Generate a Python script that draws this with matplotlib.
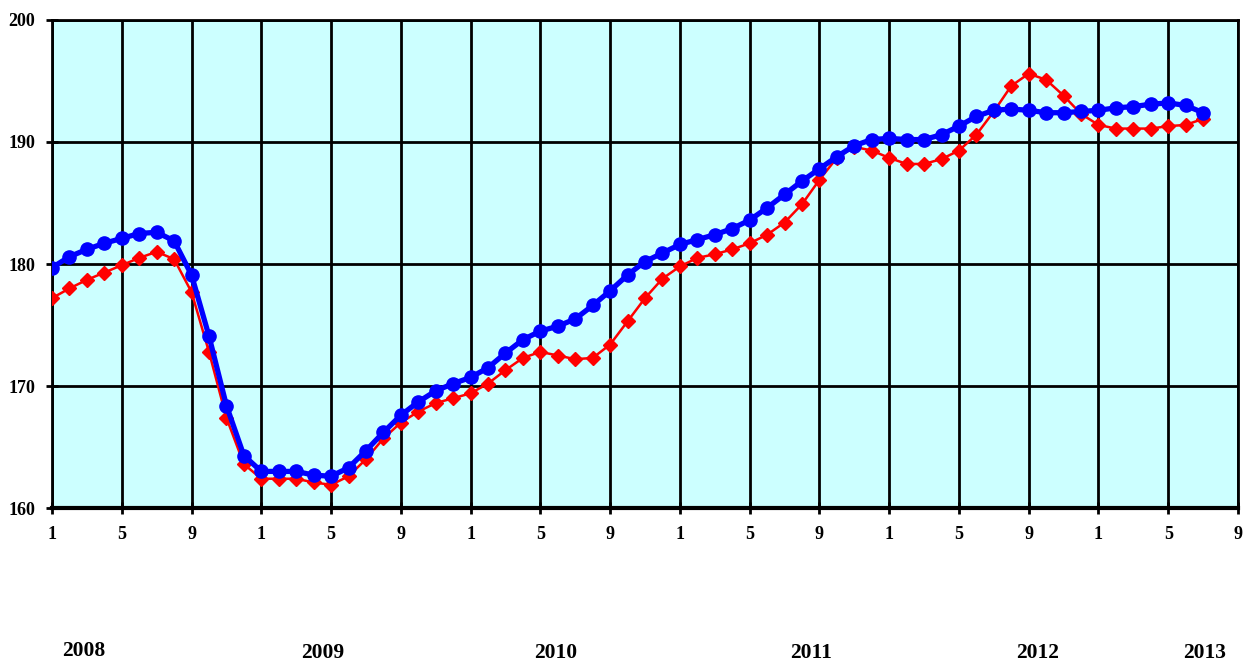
import numpy as np
import matplotlib.pyplot as plt

# monthly values, Jan 2008 .. Jul 2013
blue = [179.7, 180.6, 181.2, 181.7, 182.1, 182.5, 182.6, 181.9, 179.1, 174.1, 168.4, 164.3,
        163.0, 163.0, 163.0, 162.7, 162.6, 163.3, 164.7, 166.2, 167.6, 168.7, 169.6, 170.2,
        170.7, 171.5, 172.7, 173.8, 174.5, 174.9, 175.5, 176.6, 177.8, 179.1, 180.2, 180.9,
        181.6, 182.0, 182.4, 182.9, 183.6, 184.6, 185.7, 186.8, 187.8, 188.8, 189.7, 190.2,
        190.3, 190.2, 190.2, 190.6, 191.3, 192.1, 192.6, 192.7, 192.6, 192.4, 192.4, 192.5,
        192.6, 192.8, 192.9, 193.1, 193.2, 193.0, 192.4]
red = [177.2, 178.0, 178.7, 179.3, 179.9, 180.5, 181.0, 180.4, 177.7, 172.8, 167.4, 163.6,
       162.4, 162.4, 162.4, 162.1, 161.9, 162.6, 164.0, 165.7, 167.0, 167.9, 168.6, 169.0,
       169.4, 170.2, 171.3, 172.3, 172.8, 172.5, 172.2, 172.3, 173.4, 175.3, 177.2, 178.8,
       179.8, 180.5, 180.8, 181.2, 181.7, 182.4, 183.4, 184.9, 186.9, 188.7, 189.6, 189.3,
       188.7, 188.2, 188.2, 188.6, 189.3, 190.6, 192.5, 194.6, 195.6, 195.1, 193.8, 192.3,
       191.4, 191.1, 191.1, 191.1, 191.3, 191.4, 191.9]
tick_labels = ['1', '5', '9'] * 6
years = ['2008', '2009', '2010', '2011', '2012', '2013']
year_pos = [1.8, 15.5, 28.9, 43.5, 56.5, 66.1]   # in months from Jan 2008

plt.rcParams['font.family'] = ['Liberation Serif', 'DejaVu Serif']
plt.rcParams['font.weight'] = 'bold'

fig = plt.figure(figsize=(12.5, 6.62), dpi=100)
ax = fig.add_axes([0.0416, 0.2326, 0.9488, 0.7372])
ax.set_facecolor('#CCFFFF')

x = np.arange(len(blue))
ax.plot(x, red, color='#FF0000', lw=1.8, marker='D', ms=7, zorder=3)
ax.plot(x, blue, color='#0000FF', lw=3.8, marker='o', ms=9.5, zorder=4)

ax.set_xlim(0, 68)
ax.set_ylim(160, 200)
ax.set_xticks(np.arange(0, 69, 4))
ax.set_xticklabels(tick_labels)
ax.set_yticks(np.arange(160, 201, 10))
ax.grid(True, color='black', lw=2)
ax.set_axisbelow(True)
for s in ax.spines.values():
    s.set_color('black')
    s.set_linewidth(2)
ax.spines['bottom'].set_linewidth(3)
ax.tick_params(direction='inout', length=8, width=2, labelsize=13)
ax.tick_params(axis='x', pad=9)
ax.tick_params(axis='y', pad=8)

# year labels under the month ticks
for yr, p in zip(years, year_pos):
    yy = 651 if yr == '2008' else 653
    ax.text(p, 1 - yy / 662, yr, transform=ax.get_xaxis_transform().__class__(
        ax.transData, fig.transFigure), ha='center', va='center',
        fontsize=15.5, fontweight='bold')

fig.savefig('out.png', facecolor='white')
